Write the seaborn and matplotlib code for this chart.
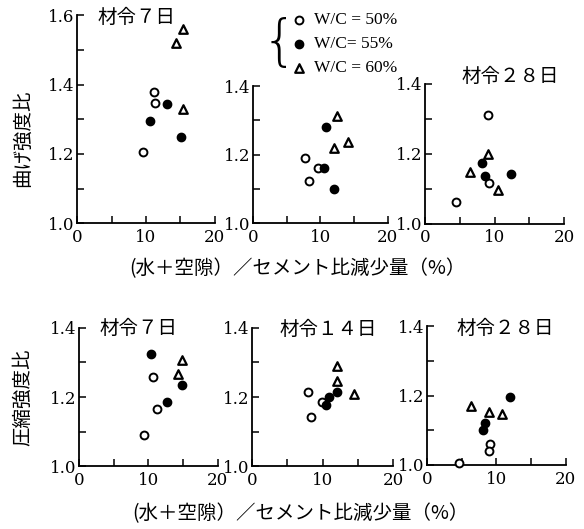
import matplotlib
matplotlib.use("Agg")
import matplotlib.pyplot as plt
import seaborn as sns
import pandas as pd

sns.set_style("ticks", rc={"axes.edgecolor": "black", "xtick.color": "black",
                           "ytick.color": "black", "text.color": "black",
                           "axes.labelcolor": "black"})
plt.rcParams['font.family'] = ['Noto Sans CJK JP', 'DejaVu Sans']

# W/C series labels
wc_labels = ["W/C = 50%", "W/C= 55%", "W/C = 60%"]

# flexural strength ratio, age 7 / (14) / 28 days : x = reduction (%), y = ratio
bend7_x = [[11.2, 11.3, 9.6], [10.6, 13.0, 15.1], [15.3, 14.3, 15.3]]
bend7_y = [[1.378, 1.347, 1.207], [1.294, 1.344, 1.25], [1.56, 1.52, 1.33]]
bend14_x = [[7.8, 9.6, 8.3], [10.9, 10.5, 12.0], [12.4, 14.1, 12.0]]
bend14_y = [[1.191, 1.162, 1.122], [1.281, 1.162, 1.10], [1.312, 1.237, 1.219]]
bend28_x = [[9.0, 9.25, 4.5], [8.2, 8.6, 12.3], [9.1, 6.5, 10.5]]
bend28_y = [[1.309, 1.115, 1.061], [1.172, 1.137, 1.143], [1.20, 1.147, 1.095]]

# compressive strength ratio
comp7_x = [[10.6, 11.2, 9.4], [10.35, 12.75, 14.9], [14.9, 14.3]]
comp7_y = [[1.257, 1.165, 1.09], [1.326, 1.187, 1.235], [1.308, 1.267]]
comp14_x = [[7.9, 9.85, 8.4], [10.9, 10.45, 12.06], [12.06, 12.0, 14.5]]
comp14_y = [[1.214, 1.187, 1.143], [1.20, 1.177, 1.214], [1.289, 1.245, 1.209]]
comp28_x = [[9.1, 9.0, 4.6], [12.0, 8.4, 8.06], [6.4, 9.0, 10.8]]
comp28_y = [[1.061, 1.039, 1.007], [1.195, 1.122, 1.102], [1.17, 1.153, 1.146]]

panels = [
    # data, axes rect, ymax, title, title pos
    (bend7_x, bend7_y, [0.132, 0.578, 0.236, 0.393], 1.6, "材令７日", (3.0, 1.595)),
    (bend14_x, bend14_y, [0.433, 0.578, 0.231, 0.259], 1.4, None, None),
    (bend28_x, bend28_y, [0.728, 0.577, 0.238, 0.265], 1.4, "材令２８日", (5.3, 1.42)),
    (comp7_x, comp7_y, [0.135, 0.119, 0.238, 0.261], 1.4, "材令７日", (3.0, 1.398)),
    (comp14_x, comp14_y, [0.432, 0.119, 0.241, 0.261], 1.4, "材令１４日", (3.9, 1.395)),
    (comp28_x, comp28_y, [0.731, 0.121, 0.238, 0.262], 1.4, "材令２８日", (4.3, 1.395)),
]

marker_styles = [
    dict(marker="o", facecolor="white", edgecolor="black", s=32, linewidth=1.4),
    dict(marker="o", facecolor="black", edgecolor="black", s=36, linewidth=1.0),
    dict(marker="^", facecolor="white", edgecolor="black", s=38, linewidth=1.6),
]

fig = plt.figure(figsize=(5.84, 5.29), dpi=100)
num_font = "DejaVu Serif"

axes = []
for xs, ys, rect, ymax, title, tpos in panels:
    ax = fig.add_axes(rect)
    for i in range(3):
        df = pd.DataFrame({"x": xs[i], "y": ys[i]})
        sns.scatterplot(data=df, x="x", y="y", ax=ax, label=wc_labels[i],
                        zorder=3, clip_on=False, **marker_styles[i])
    ax.set_xlim(0, 20)
    ax.set_ylim(1.0, ymax)
    ax.set_xticks([0, 5, 10, 15, 20])
    ax.set_xticklabels(["0", "", "10", "", "20"])
    n = int(round((ymax - 1.0) * 10))
    yt = [1.0 + 0.1 * k for k in range(n + 1)]
    ax.set_yticks(yt)
    ax.set_yticklabels([f"{v:.1f}" if k % 2 == 0 else "" for k, v in enumerate(yt)])
    ax.tick_params(direction="in", length=5, width=1.1, labelsize=12, pad=2)
    ax.tick_params(axis="x", pad=4)
    for lab in ax.get_xticklabels() + ax.get_yticklabels():
        lab.set_fontfamily(num_font)
    sns.despine(ax=ax)
    for sp in ("left", "bottom"):
        ax.spines[sp].set_linewidth(1.3)
    ax.set_xlabel("")
    ax.set_ylabel("")
    if ax.get_legend() is not None:
        ax.get_legend().remove()
    if title:
        ax.text(tpos[0], tpos[1], title, fontsize=14, va="center", ha="left")
    axes.append(ax)

# legend above the upper middle panel
handles, labels = axes[1].get_legend_handles_labels()
leg = fig.legend(handles, labels, loc="upper left", bbox_to_anchor=(0.476, 1.0),
                 frameon=False, handletextpad=0.4, labelspacing=0.45,
                 borderpad=0.2, handlelength=1.0,
                 prop={"family": "Liberation Serif", "size": 12.5})
fig.text(0.479, 0.917, "{", fontsize=40, ha="center", va="center",
         fontfamily="DejaVu Sans", fontweight="light")

# axis labels
fig.text(0.039, 0.739, "曲げ強度比", rotation=90, fontsize=14, ha="center", va="center")
fig.text(0.039, 0.249, "圧縮強度比", rotation=90, fontsize=14, ha="center", va="center")
fig.text(0.51, 0.493, "(水＋空隙）／セメント比減少量（%）", fontsize=14, ha="center", va="center")
fig.text(0.515, 0.030, "(水＋空隙）／セメント比減少量（%）", fontsize=14, ha="center", va="center")

fig.savefig("out.png", dpi=100)
